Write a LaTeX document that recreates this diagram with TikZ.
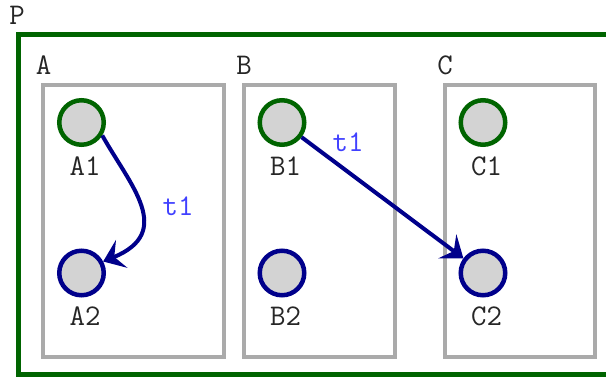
\documentclass[tikz,border=0pt]{standalone}
\usepackage{fontspec}
\usetikzlibrary{arrows.meta}

\definecolor{frameGreen}{RGB}{0,100,0}
\definecolor{boxGray}{RGB}{170,170,170}
\definecolor{edgeNavy}{RGB}{0,0,139}
\definecolor{stateFill}{RGB}{211,211,211}
\definecolor{labelBlue}{RGB}{64,64,255}

\begin{document}
\begin{tikzpicture}[x=1pt,y=-1pt,
  txt/.style={font=\fontsize{30}{30}\selectfont\ttfamily, text=black!85, inner sep=0pt},
  tlabel/.style={font=\fontsize{30}{30}\selectfont\ttfamily, text=labelBlue, inner sep=0pt},
  pframe/.style={draw=frameGreen, line width=5pt, inner sep=0pt},
  region/.style={draw=boxGray, line width=4.5pt, inner sep=0pt, minimum height=272pt},
  initstate/.style={circle, draw=frameGreen, fill=stateFill, line width=4.5pt,
                    minimum size=44.5pt, inner sep=0pt},
  nextstate/.style={circle, draw=edgeNavy, fill=stateFill, line width=4.5pt,
                    minimum size=44.5pt, inner sep=0pt},
  edge/.style={draw=edgeNavy, line width=4pt,
               -{Stealth[length=20pt, width=30pt, inset=8pt]}}]
\useasboundingbox (0,0) rectangle (606,377);
\fill[white] (0,0) rectangle (606,377);

% outer process frame (runs past the right edge)
\node[pframe, minimum width=622pt, minimum height=339.5pt] (P) at (329,204.25) {};
\node[txt] (Plabel) at (17,15) {P};

% three regions
\node[region, minimum width=181pt] (A) at (133.5,221) {};
\node[region, minimum width=151pt] (B) at (319.5,221) {};
\node[region, minimum width=150pt] (C) at (520,221) {};
\node[txt] (Alabel) at (43.5,65) {A};
\node[txt] (Blabel) at (244,65) {B};
\node[txt] (Clabel) at (445,65) {C};

% states
\node[initstate] (A1) at (81.5,122.5) {};
\node[initstate] (B1) at (282,122.5) {};
\node[initstate] (C1) at (483,122.5) {};
\node[nextstate] (A2) at (81.5,273) {};
\node[nextstate] (B2) at (282,273) {};
\node[nextstate] (C2) at (483,273) {};

\node[txt] (A1l) at (85,166) {A1};
\node[txt] (B1l) at (285.5,166) {B1};
\node[txt] (C1l) at (486.5,166) {C1};
\node[txt] (A2l) at (85,316) {A2};
\node[txt] (B2l) at (285.5,316) {B2};
\node[txt] (C2l) at (486.5,316) {C2};

% transitions
\draw[edge] (A1.-32) .. controls (130,185) and (175,232) .. (A2.28);
\draw[edge] (B1) -- (C2);
\node[tlabel] (tA) at (178,206) {t1};
\node[tlabel] (tB) at (348,142) {t1};
\end{tikzpicture}
\end{document}
